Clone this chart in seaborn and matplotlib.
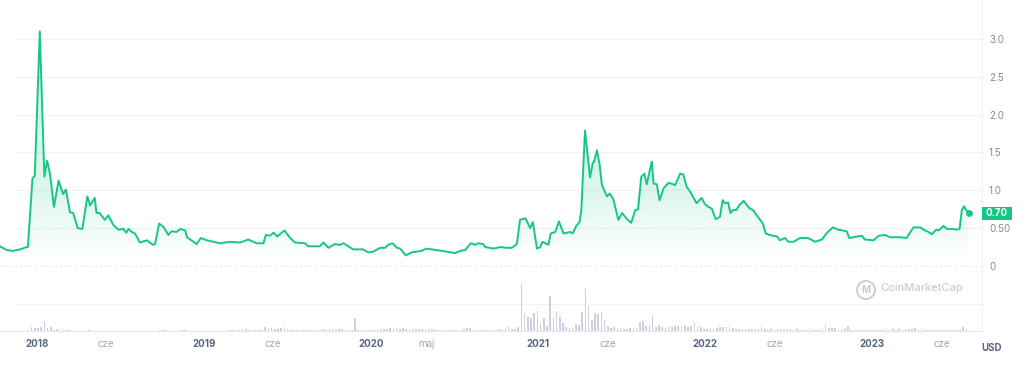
"""
Price chart with volume pane, CoinMarketCap style
"""

import matplotlib
matplotlib.use("Agg")
import matplotlib.pyplot as plt
import matplotlib.dates as mdates
import matplotlib.transforms as mtransforms
from matplotlib.colors import to_rgb
from matplotlib.patches import Ellipse, Rectangle
import numpy as np
import pandas as pd
import seaborn as sns

# price data (USD)
price_dates = [
    "2017-10-12", "2017-10-27", "2017-11-10", "2017-11-25", "2017-12-09", "2017-12-12",
    "2017-12-22", "2017-12-27", "2018-01-07", "2018-01-17", "2018-01-23", "2018-01-29",
    "2018-02-07", "2018-02-17", "2018-02-27", "2018-03-05", "2018-03-14", "2018-03-21",
    "2018-03-31", "2018-04-10", "2018-04-21", "2018-04-27", "2018-05-07", "2018-05-11",
    "2018-05-18", "2018-05-29", "2018-06-06", "2018-06-17", "2018-06-28", "2018-07-09",
    "2018-07-15", "2018-07-20", "2018-07-27", "2018-08-03", "2018-08-14", "2018-08-29",
    "2018-09-11", "2018-09-16", "2018-09-25", "2018-10-04", "2018-10-15", "2018-10-22",
    "2018-11-02", "2018-11-10", "2018-11-21", "2018-11-25", "2018-12-16", "2018-12-25",
    "2019-01-07", "2019-02-05", "2019-02-27", "2019-03-21", "2019-04-08", "2019-04-26",
    "2019-05-11", "2019-05-16", "2019-05-25", "2019-06-02", "2019-06-10", "2019-06-26",
    "2019-07-07", "2019-07-19", "2019-08-10", "2019-08-17", "2019-09-11", "2019-09-19",
    "2019-09-30", "2019-10-14", "2019-10-25", "2019-11-02", "2019-11-23", "2019-12-15",
    "2019-12-26", "2020-01-06", "2020-01-21", "2020-02-01", "2020-02-08", "2020-02-17",
    "2020-02-27", "2020-03-05", "2020-03-17", "2020-03-30", "2020-04-10", "2020-04-21",
    "2020-05-01", "2020-05-24", "2020-06-15", "2020-07-03", "2020-07-14", "2020-07-25",
    "2020-08-06", "2020-08-16", "2020-08-23", "2020-09-02", "2020-09-07", "2020-09-25",
    "2020-10-10", "2020-10-24", "2020-11-04", "2020-11-15", "2020-11-22", "2020-12-04",
    "2020-12-14", "2020-12-20", "2020-12-29", "2021-01-05", "2021-01-10", "2021-01-23",
    "2021-01-28", "2021-02-07", "2021-02-15", "2021-02-25", "2021-03-12", "2021-03-17",
    "2021-03-25", "2021-04-01", "2021-04-05", "2021-04-13", "2021-04-24", "2021-04-30",
    "2021-05-03", "2021-05-09", "2021-05-15", "2021-05-20", "2021-05-31", "2021-06-06",
    "2021-06-14", "2021-06-25", "2021-07-03", "2021-07-14", "2021-07-23", "2021-08-01",
    "2021-08-07", "2021-08-14", "2021-08-21", "2021-08-26", "2021-09-06", "2021-09-10",
    "2021-09-17", "2021-09-23", "2021-10-02", "2021-10-13", "2021-10-27", "2021-11-07",
    "2021-11-14", "2021-11-21", "2021-11-29", "2021-12-13", "2021-12-24", "2021-12-31",
    "2022-01-08", "2022-01-15", "2022-01-24", "2022-02-02", "2022-02-08", "2022-02-13",
    "2022-02-20", "2022-02-25", "2022-03-03", "2022-03-10", "2022-03-17", "2022-03-26",
    "2022-04-08", "2022-04-15", "2022-04-26", "2022-05-07", "2022-05-13", "2022-05-22",
    "2022-06-07", "2022-06-13", "2022-06-24", "2022-07-02", "2022-07-13", "2022-07-27",
    "2022-08-14", "2022-08-29", "2022-09-13", "2022-09-24", "2022-10-07", "2022-10-19",
    "2022-11-06", "2022-11-12", "2022-11-21", "2022-12-09", "2022-12-16", "2023-01-04",
    "2023-01-15", "2023-01-29", "2023-02-09", "2023-03-03", "2023-03-17", "2023-04-01",
    "2023-04-16", "2023-04-23", "2023-05-04", "2023-05-11", "2023-05-21", "2023-05-26",
    "2023-06-06", "2023-06-13", "2023-06-26", "2023-07-05", "2023-07-11", "2023-07-16",
    "2023-07-21", "2023-07-25", "2023-07-31",
]
price_usd = [
    0.26, 0.21, 0.20, 0.22, 0.25, 0.25,
    1.16, 1.19, 3.10, 1.18, 1.39, 1.23,
    0.78, 1.13, 0.95, 1.01, 0.71, 0.70,
    0.50, 0.49, 0.92, 0.80, 0.90, 0.70,
    0.70, 0.61, 0.67, 0.54, 0.48, 0.49,
    0.44, 0.49, 0.45, 0.43, 0.31, 0.34,
    0.28, 0.29, 0.56, 0.52, 0.41, 0.46,
    0.45, 0.49, 0.47, 0.38, 0.29, 0.37,
    0.34, 0.30, 0.32, 0.31, 0.35, 0.30,
    0.30, 0.41, 0.40, 0.44, 0.39, 0.47,
    0.38, 0.31, 0.30, 0.26, 0.26, 0.31,
    0.24, 0.29, 0.28, 0.30, 0.22, 0.22,
    0.18, 0.19, 0.24, 0.24, 0.28, 0.30,
    0.24, 0.23, 0.14, 0.18, 0.19, 0.20,
    0.23, 0.21, 0.19, 0.17, 0.20, 0.21,
    0.30, 0.28, 0.30, 0.29, 0.25, 0.23,
    0.25, 0.24, 0.24, 0.29, 0.61, 0.63,
    0.50, 0.58, 0.23, 0.25, 0.32, 0.28,
    0.43, 0.45, 0.59, 0.43, 0.45, 0.43,
    0.53, 0.58, 0.74, 1.79, 1.17, 1.36,
    1.38, 1.53, 1.34, 1.07, 0.92, 0.96,
    0.88, 0.61, 0.70, 0.62, 0.57, 0.74,
    0.75, 1.18, 1.22, 1.08, 1.38, 1.09,
    1.08, 0.87, 1.03, 1.10, 1.07, 1.22,
    1.21, 1.05, 0.98, 0.83, 0.90, 0.82,
    0.78, 0.76, 0.62, 0.65, 0.87, 0.83,
    0.84, 0.70, 0.74, 0.74, 0.81, 0.86,
    0.76, 0.74, 0.65, 0.56, 0.43, 0.41,
    0.39, 0.34, 0.37, 0.32, 0.32, 0.37,
    0.37, 0.32, 0.35, 0.44, 0.51, 0.48,
    0.46, 0.37, 0.38, 0.40, 0.35, 0.34,
    0.40, 0.41, 0.38, 0.38, 0.37, 0.51,
    0.51, 0.48, 0.45, 0.42, 0.48, 0.47,
    0.53, 0.49, 0.49, 0.48, 0.49, 0.74,
    0.79, 0.74, 0.70,
]

# weekly trading volume (relative units), first week starting 2017-12-06
volume_start = "2017-12-06"
volume = [
    0.5, 1, 4, 3, 3, 4, 10, 3, 4, 1.5, 2, 1, 1, 1.5, 1, 0.5, 0.5, 0.5, 0.5, 0.5, 1.5,
    0.3, 0.3, 0.5, 0.3, 0.3, 0.3, 0.3, 0.3, 0.3, 0.3, 0.3, 0.3, 0.3, 0.3, 0.3, 0.3,
    0.3, 0.3, 0.3, 0.5, 0.5,
    1, 0.8, 1, 0.5, 0.5, 0.5, 0.5, 1, 1, 0.5, 0.5, 0.5, 0.5, 0.5, 0.5, 0.5, 0.5, 0.5,
    0.5, 0.5, 0.5, 0.5,
    0.8, 1, 0.8, 1, 1, 2, 1, 1, 1, 1, 1.2, 4, 3, 3, 2.5, 2, 3, 4, 2, 1.5,
    1.2, 1, 1, 1.2, 1, 1.2, 1.2, 1, 1.5, 2.5, 1.5, 2, 1.7, 1.5, 2, 2, 1.5, 1.2, 1.5, 13,
    1.5, 1, 1, 1, 1, 1.5, 2, 1.7, 2, 2.5, 3, 2.5, 3, 2.5, 3, 2.5, 2, 2, 2, 2,
    2.5, 2, 2, 2, 1.5, 1.5, 1, 1, 1, 1, 1, 1.2, 1.5, 2, 3.5, 3, 2, 1.5, 1.5, 1.5,
    1.5, 1.5, 1.2, 1.5, 2, 1.5, 2, 5,
    2, 2, 4, 48, 18, 14, 13, 18, 20, 8, 13, 5, 35, 14, 20, 14, 8.5, 4, 3, 2.7,
    7, 6, 18.7, 42, 25, 11, 18, 17, 19, 11, 5, 3, 4, 3, 3, 2, 2.5, 2.7, 3.3, 3.5,
    9, 10, 5, 6, 16, 4.3, 6.5, 4.3, 3, 3.7, 3.7, 5, 5,
    5, 5, 4, 5, 9, 5, 4, 2.5, 2.5, 3, 2.5, 2.7, 4, 4.5, 4, 4, 3, 2, 2, 2.5,
    2, 2.5, 2, 1.5, 2, 3.7, 2, 1.5, 1.7, 1.5, 2, 1.5, 1.7, 1.5, 2, 1.5, 1.7, 1.5, 1.2, 1.5,
    1.7, 1.5, 1.2, 1.5, 2, 6.5, 3, 2.7, 2.7, 1.5, 1.5, 2, 5, 1.5, 1.2, 1, 1.2, 1.5, 1.2, 1,
    1.5, 1.5, 1.2, 1.5, 1.7, 1.5, 1.7, 1.5, 1.7, 1.5, 2, 2.5, 2, 2.7, 1.5, 2, 1.5, 1, 1.5, 1,
    0.7, 1.5, 1, 1.2, 1.5, 1, 1.5, 1.2, 4.5, 2,
]

tick_dates = ["2018-01-01", "2018-06-01", "2019-01-01", "2019-06-01", "2020-01-01", "2020-05-01",
              "2021-01-01", "2021-06-01", "2022-01-01", "2022-06-01", "2023-01-01", "2023-06-01"]
tick_labels = ["2018", "cze", "2019", "cze", "2020", "maj", "2021", "cze", "2022", "cze", "2023", "cze"]
price_ticks = [0, 0.5, 1.0, 1.5, 2.0, 2.5, 3.0]
price_tick_labels = ["0", "0.50", "1.0", "1.5", "2.0", "2.5", "3.0"]

GREEN = "#16c784"
GRID = "#eff2f5"
BAR = "#cdd0de"
LABEL = "#808a9d"
YEAR = "#58667e"
MONTH = "#a1a7bb"
MARK = "#c8ccd6"

sns.set_theme(style="white")
plt.rcParams["font.family"] = ["Inter", "DejaVu Sans"]

df = pd.DataFrame({"date": pd.to_datetime(price_dates), "price": price_usd})
vol = pd.DataFrame({"date": pd.date_range(volume_start, periods=len(volume), freq="7D"),
                    "volume": volume})

W, H = 1024, 368
fig = plt.figure(figsize=(W / 100, H / 100), dpi=100)
ax = fig.add_axes([0, 1 - 270 / H, 982 / W, 270 / H])
axv = fig.add_axes([0, 1 - 331 / H, 982 / W, 61 / H])

xlim = (pd.Timestamp("2017-10-12"), pd.Timestamp("2023-08-29"))

# gradient fill under the price line
x0, x1 = mdates.date2num(df["date"].iloc[0]), mdates.date2num(df["date"].iloc[-1])
levels = np.linspace(0, 3.2, 256)
rgba = np.zeros((256, 1, 4))
rgba[..., :3] = to_rgb(GREEN)
rgba[:, 0, 3] = np.interp(levels, [0.1, 1.0, 3.2], [0.0, 0.15, 0.22])
im = ax.imshow(rgba, extent=[x0, x1, 0, 3.2], origin="lower", aspect="auto",
               interpolation="bilinear", zorder=1)
poly = ax.fill_between(df["date"], df["price"], 0, color="none", lw=0)
im.set_clip_path(poly.get_paths()[0], transform=ax.transData)

# price line
sns.lineplot(data=df, x="date", y="price", ax=ax, color=GREEN, lw=1.4, zorder=3)
ax.scatter(df["date"].iloc[-1], df["price"].iloc[-1], s=24, color=GREEN, zorder=4, lw=0)

# gridlines
for t in price_ticks[1:]:
    ax.axhline(t, xmin=16 / 982, color=GRID, lw=0.8, zorder=0)
ax.axhline(0, color="#cfd6e4", lw=0.8, ls=(0, (1, 3.5)), zorder=0)

ax.set_xlim(xlim)
ax.set_ylim(-4 / 75.67, 266 / 75.67)
ax.set_xlabel("")
ax.set_ylabel("")
ax.set_xticks([])
ax.yaxis.tick_right()
ax.set_yticks(price_ticks, price_tick_labels)
ax.tick_params(axis="y", length=0, pad=5, labelsize=7, labelcolor=LABEL)
for side in ["top", "left", "bottom"]:
    ax.spines[side].set_visible(False)
ax.spines["right"].set_color(GRID)
ax.spines["right"].set_linewidth(0.8)

# current price tag
last = df["price"].iloc[-1]
blend = mtransforms.blended_transform_factory(ax.transAxes, ax.transData)
ax.add_patch(Rectangle((1.0, last - 6.5 / 75.67), 30 / 982, 13 / 75.67, transform=blend,
                       facecolor=GREEN, edgecolor="none", clip_on=False, zorder=5))
ax.text(1.0 + 15 / 982, last, f"{last:.2f}", transform=blend, ha="center", va="center",
        color="white", fontsize=7, fontweight="bold", zorder=6)

# volume pane
axv.bar(vol["date"], vol["volume"], width=3.5, color=BAR, lw=0, zorder=2)
axv.axhline(27, xmin=16 / 982, color=GRID, lw=0.8, zorder=0)
axv.set_xlim(xlim)
axv.set_ylim(0, 61)
axv.set_yticks([])
axv.set_xticks(pd.to_datetime(tick_dates), tick_labels)
axv.tick_params(axis="x", length=0, pad=6, labelsize=7)
for lab in axv.get_xticklabels():
    if lab.get_text().isdigit():
        lab.set_color(YEAR)
        lab.set_fontweight("bold")
    else:
        lab.set_color(MONTH)
for side in ["top", "left"]:
    axv.spines[side].set_visible(False)
axv.spines["bottom"].set_color("#e6e8ee")
axv.spines["bottom"].set_linewidth(0.8)
axv.spines["right"].set_color(GRID)
axv.spines["right"].set_linewidth(0.8)

fig.text(992 / W, 1 - 348 / H, "USD", ha="center", va="center", fontsize=7,
         fontweight="bold", color=YEAR)

# watermark
fig.add_artist(Ellipse((866 / W, 1 - 290 / H), 18 / W, 18 / H, transform=fig.transFigure,
                       fill=False, edgecolor=MARK, lw=1.3))
fig.text(866 / W, 1 - 290 / H, "M", ha="center", va="center", fontsize=7, color=MARK,
         fontweight="bold")
fig.text(880 / W, 1 - 288 / H, "CoinMarketCap", ha="left", va="center", fontsize=8,
         color=MARK, fontweight="medium")

fig.savefig("out.png", dpi=100)
